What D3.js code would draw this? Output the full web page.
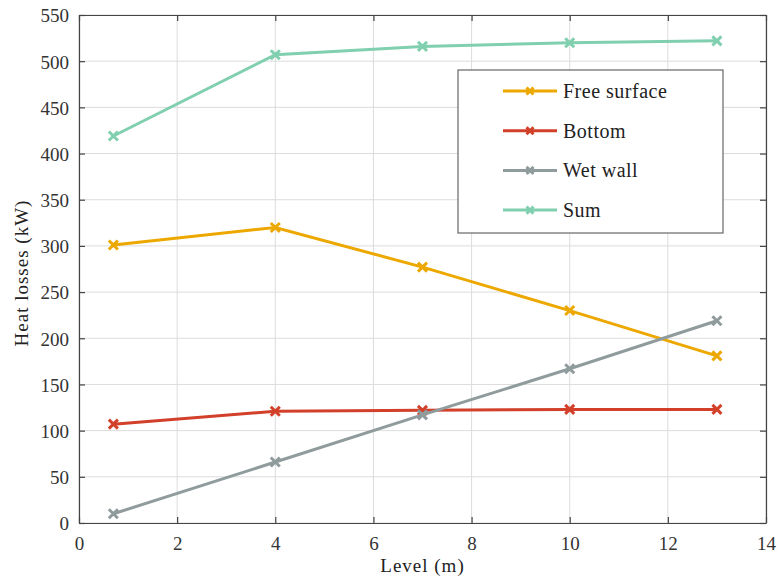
<!DOCTYPE html>
<html>
<head>
<meta charset="utf-8">
<script src="https://cdn.jsdelivr.net/npm/d3@7"></script>
<style>
  body { margin: 0; background: #fff; }
  text { font-family: "Liberation Serif", "DejaVu Serif", serif; fill: #222; }
</style>
</head>
<body>
<div id="chart"></div>
<script>
var levels = [0.7, 4, 7, 10, 13];
var freeSurface = [301, 320, 277, 230, 181];
var bottom = [107, 121, 122, 123, 123];
var wetWall = [10, 66, 117, 167, 219];
var sum = [419, 507, 516, 520, 522];

var seriesNames = ["Free surface", "Bottom", "Wet wall", "Sum"];
var seriesValues = [freeSurface, bottom, wetWall, sum];
var colors = ["#eda800", "#d2402a", "#8f9b9c", "#80cfae"];

var xTicks = [0, 2, 4, 6, 8, 10, 12, 14];
var yTicks = [0, 50, 100, 150, 200, 250, 300, 350, 400, 450, 500, 550];

var margin = {top: 15, left: 79, right: 11, bottom: 55};
var W = 777, H = 578;
var width = W - margin.left - margin.right;
var height = H - margin.top - margin.bottom;

var svg = d3.select("#chart")
    .append("svg")
    .attr("width", W)
    .attr("height", H)
    .append("g")
    .attr("transform", "translate(" + margin.left + "," + margin.top + ")");

var x = d3.scaleLinear().domain([0, 14]).range([0, width]);
var y = d3.scaleLinear().domain([0, 550]).range([height, 0]);

// grid
svg.append("g").selectAll("line").data(xTicks).enter().append("line")
    .attr("x1", d => x(d)).attr("x2", d => x(d))
    .attr("y1", 0).attr("y2", height)
    .style("stroke", "#dcdcdc").style("stroke-width", 1);
svg.append("g").selectAll("line").data(yTicks).enter().append("line")
    .attr("x1", 0).attr("x2", width)
    .attr("y1", d => y(d)).attr("y2", d => y(d))
    .style("stroke", "#dcdcdc").style("stroke-width", 1);

// axes (ticks inward)
var xAxis = svg.append("g").attr("transform", "translate(0," + height + ")")
    .call(d3.axisBottom(x).tickValues(xTicks).tickSizeInner(-6).tickSizeOuter(0).tickPadding(12));
var xTop = svg.append("g")
    .call(d3.axisTop(x).tickValues(xTicks).tickSizeInner(-6).tickSizeOuter(0).tickFormat(""));
var yAxis = svg.append("g")
    .call(d3.axisLeft(y).tickValues(yTicks).tickSizeInner(-6).tickSizeOuter(0).tickPadding(10));
var yRight = svg.append("g").attr("transform", "translate(" + width + ",0)")
    .call(d3.axisRight(y).tickValues(yTicks).tickSizeInner(-6).tickSizeOuter(0).tickFormat(""));

[xAxis, xTop, yAxis, yRight].forEach(function(a) {
    a.selectAll("path, line").style("stroke", "#444").style("stroke-width", 1.2);
    a.selectAll("text").style("font-size", "19px").style("fill", "#333")
        .style("font-family", "'Liberation Serif', serif");
});
xAxis.selectAll("text").attr("dy", "0.78em");
yAxis.selectAll("text").attr("dy", "0.36em");

// lines
var line = d3.line().x((d, i) => x(levels[i])).y(d => y(d));

function cross(g, cx, cy, color, s) {
    g.append("path")
        .attr("d", "M" + (cx - s) + "," + (cy - s) + "L" + (cx + s) + "," + (cy + s) +
                   "M" + (cx - s) + "," + (cy + s) + "L" + (cx + s) + "," + (cy - s))
        .style("stroke", color).style("stroke-width", 3).style("fill", "none");
}

seriesValues.forEach(function(vals, k) {
    svg.append("path").datum(vals)
        .attr("d", line)
        .style("fill", "none")
        .style("stroke", colors[k])
        .style("stroke-width", 3);
    var g = svg.append("g");
    vals.forEach(function(v, i) { cross(g, x(levels[i]), y(v), colors[k], 4.5); });
});

// legend
var lg = svg.append("g").attr("transform", "translate(" + (458 - margin.left) + "," + (70 - margin.top) + ")");
lg.append("rect").attr("width", 265).attr("height", 163)
    .style("fill", "#fff").style("stroke", "#666").style("stroke-width", 1.2);
seriesNames.forEach(function(name, k) {
    var ry = 21 + k * 39.7;
    lg.append("line").attr("x1", 45).attr("x2", 99).attr("y1", ry).attr("y2", ry)
        .style("stroke", colors[k]).style("stroke-width", 3);
    cross(lg, 72, ry, colors[k], 3.5);
    lg.append("text").attr("x", 105).attr("y", ry + 7)
        .style("font-size", "20px").style("letter-spacing", "0.5px").text(name);
});

// axis labels
svg.append("text")
    .attr("x", x(7)).attr("y", height + 49)
    .attr("text-anchor", "middle")
    .style("font-size", "19px").style("letter-spacing", "1px")
    .text("Level (m)");
svg.append("text")
    .attr("transform", "translate(" + (-51) + "," + (height / 2 + 4) + ") rotate(-90)")
    .attr("text-anchor", "middle")
    .style("font-size", "19px").style("letter-spacing", "1px")
    .text("Heat losses (kW)");
</script>
</body>
</html>
